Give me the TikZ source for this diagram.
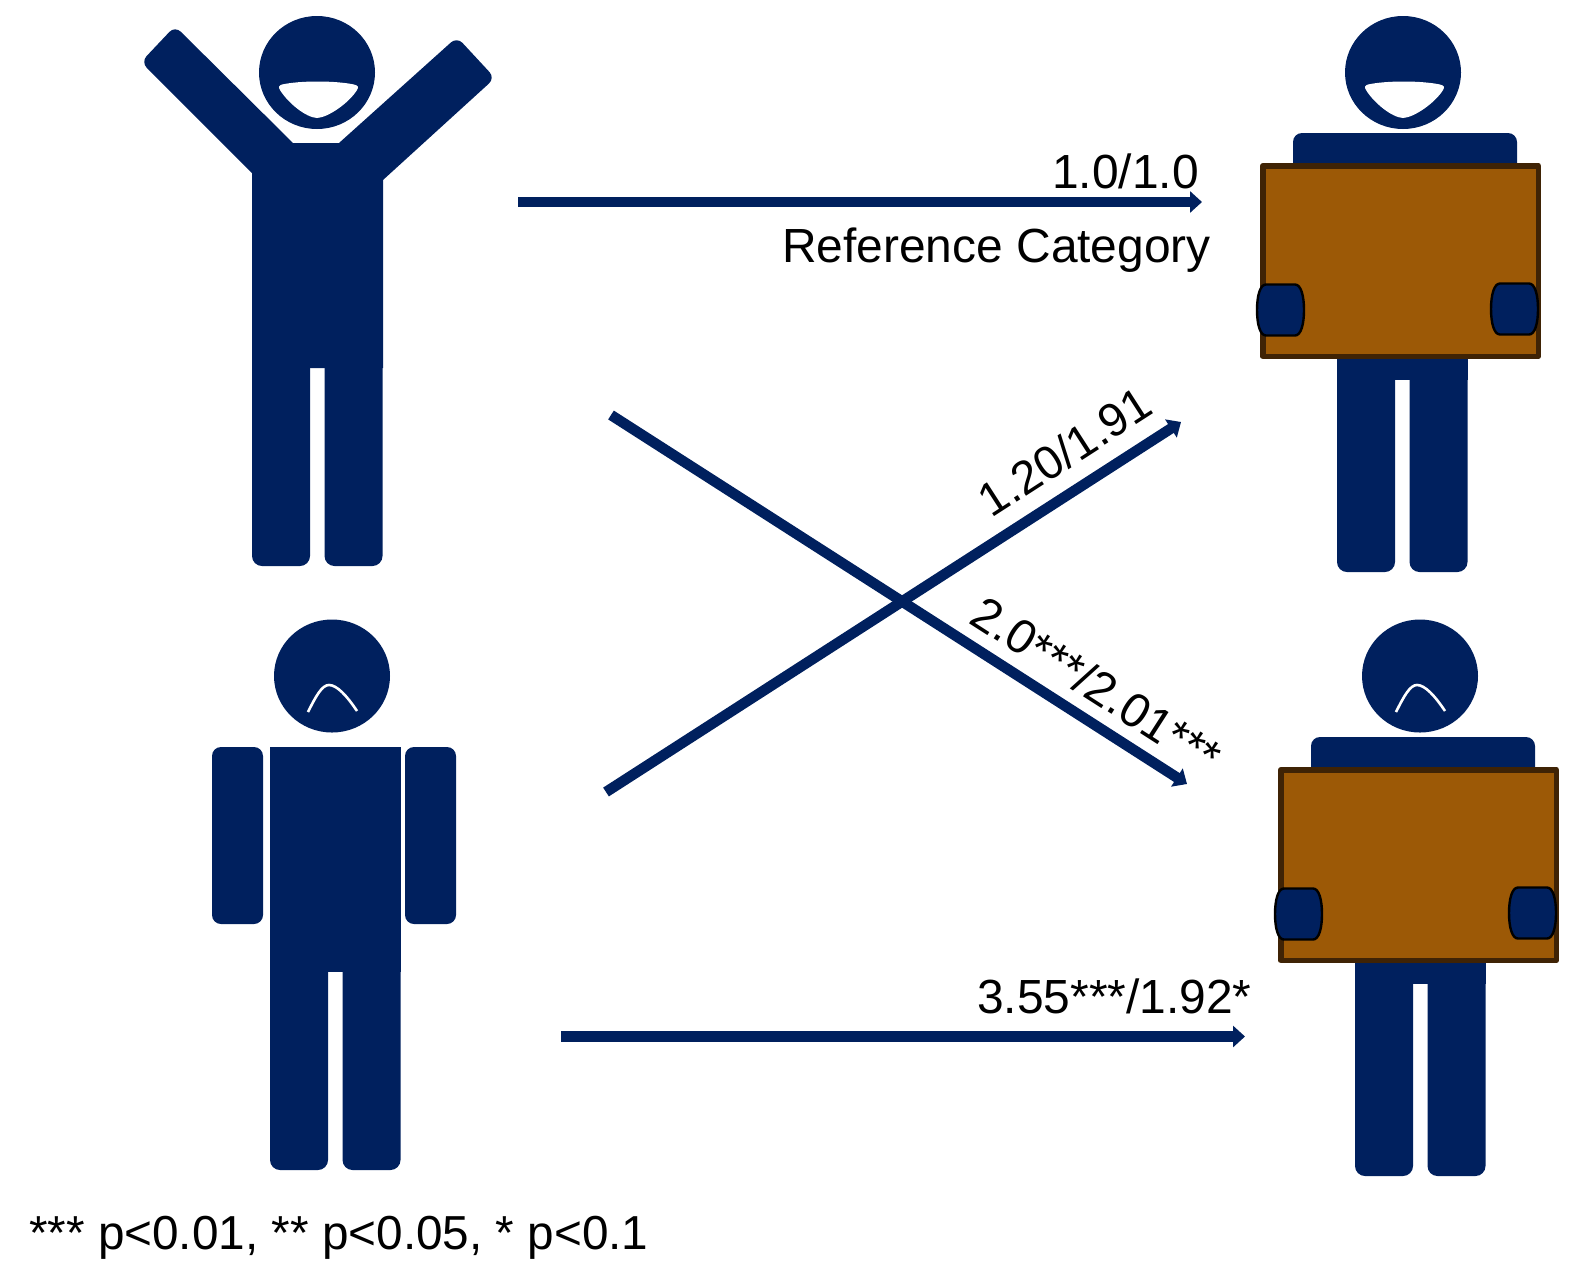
\documentclass[tikz,border=0pt]{standalone}
\usepackage{fontspec}
\setmainfont{Liberation Sans}
\usetikzlibrary{arrows.meta}
\definecolor{navy}{HTML}{00205E}
\definecolor{boxfill}{HTML}{9C5906}
\definecolor{boxline}{HTML}{3F2305}
\tikzset{
  fig/.style={fill=navy,draw=none},
  link/.style={draw=navy,line width=10.5pt},
  linkhead/.style={link,-{Triangle[length=12pt,width=21pt]}},
  label/.style={inner sep=0pt,anchor=base west,text=black,font=\fontsize{47.9}{50}\selectfont},
}
\newcommand{\happyhead}{%
  \fill[navy] (317,72.5) ellipse [x radius=58,y radius=56.5];
  \fill[white] (282,84.5) .. controls (300,80.5) and (335,80.5) .. (354,84.5)
    .. controls (358,85.5) and (359,87) .. (357,90)
    .. controls (349,103) and (328,117.5) .. (317,118)
    .. controls (306,117.5) and (288,103) .. (280,90)
    .. controls (278,87) and (279,85.5) .. (282,84.5) -- cycle;
}
\newcommand{\sadhead}{%
  \fill[navy] (332,676) ellipse [x radius=58,y radius=56.5];
  \draw[white,line width=2.6pt] (308,712) .. controls (316,696) and (322,685) .. (329,685)
    .. controls (337,685) and (347,696) .. (357,711);
}
\newcommand{\standlegs}[1]{% origin: body left x=0, body top y=0; #1 = leg length
  \fill[navy] (0,-5) -- (131,-5) -- (131,0) -- (0,0) -- cycle;
  \path[fig] (0,-5) [rounded corners=10pt] -- (0,#1) -- (58,#1) [sharp corners] -- (58,-5) -- cycle;
  \path[fig] (72.5,-5) [rounded corners=10pt] -- (72.5,#1) -- (130.5,#1) [sharp corners] -- (130.5,-5) -- cycle;
}
\newcommand{\hand}{%
  \filldraw[fill=navy,draw=black,line width=2.4pt] (9,0.5) -- (38,0.5)
    .. controls (44,0.5) and (47,12) .. (47,26) .. controls (47,40) and (44,51.5) .. (38,51.5) -- (9,51.5)
    .. controls (3,51.5) and (0,40) .. (0,26) .. controls (0,12) and (3,0.5) .. (9,0.5) -- cycle;
}
\newcommand{\carrier}{%
  \path[fig] (1293,170) [rounded corners=9pt] -- (1293,133) -- (1517,133) [sharp corners] -- (1517,170) -- cycle;
  \fill[navy] (1337,350) rectangle (1468,380);
  \begin{scope}[shift={(1337,380)}]\standlegs{192}\end{scope}
  \filldraw[fill=boxfill,draw=boxline,line width=5.5pt,line join=round] (1262.75,165.75) rectangle (1538.25,356.25);
  \begin{scope}[shift={(1257,284)}]\hand\end{scope}
  \begin{scope}[shift={(1491,283)}]\hand\end{scope}
}
\begin{document}
\begin{tikzpicture}[x=1pt,y=-1pt]
\useasboundingbox (0,0) rectangle (1573,1267);
% top-left figure: arms raised
\happyhead
\path[fig] (252,368) -- (252,173) [rounded corners=8pt] -- (141,62) -- (175,26) [sharp corners] -- (293,143) -- (339,143)
  [rounded corners=8pt] -- (457,37) -- (495,78) [sharp corners] -- (383,180) -- (383,368) -- cycle;
\begin{scope}[shift={(252,368)}]\standlegs{198}\end{scope}
% top-right figure
\begin{scope}[shift={(1086,0)}]\happyhead\end{scope}
\carrier
% bottom-left figure
\sadhead
\fill[navy] (270,747) rectangle (401,972);
\begin{scope}[shift={(270,972)}]\standlegs{198}\end{scope}
\path[fig,rounded corners=9pt] (212,747) rectangle (263,924);
\path[fig,rounded corners=9pt] (405,747) rectangle (456,924);
% bottom-right figure
\begin{scope}[shift={(1088,0)}]\sadhead\end{scope}
\begin{scope}[shift={(18,604)}]\carrier\end{scope}
% connectors
\coordinate (aS) at (518,202);
\coordinate (aE) at (1202,202);
\coordinate (bS) at (561,1036.5);
\coordinate (bE) at (1245,1036.5);
\coordinate (cS) at (611,415);
\coordinate (cE) at (1187,784);
\coordinate (dS) at (606,792);
\coordinate (dE) at (1181,422);
\draw[linkhead] (aS) -- (aE);
\draw[linkhead] (bS) -- (bE);
\draw[linkhead] (cS) -- (cE);
\draw[linkhead] (dS) -- (dE);
% labels
\node[label] (t1) at (1052,188) {1.0/1.0};
\node[label] (t2) at (782,262) {Reference Category};
\node[label] (t3) at (977,1013) {3.55***/1.92*};
\node[label,rotate=32.8,font=\fontsize{46.8}{50}\selectfont] (t4) at (991.5,518.5) {1.20/1.91};
\node[label,rotate=-32.7] (t5) at (967.5,622) {2.0***/2.01***};
\node[label,font=\fontsize{47.7}{50}\selectfont] (t6) at (29,1249) {*** p<0.01, ** p<0.05, * p<0.1};
\end{tikzpicture}
\end{document}
